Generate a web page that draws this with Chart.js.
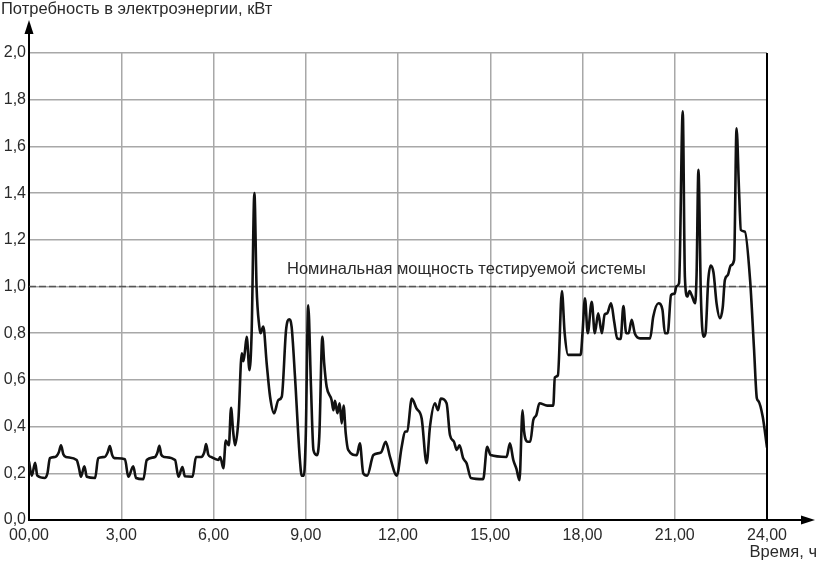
<!DOCTYPE html>
<html>
<head>
<meta charset="utf-8">
<script src="https://cdn.jsdelivr.net/npm/chart.js@4"></script>
<style>
  body { margin: 0; background: #fff; }
  canvas { display: block; }
</style>
</head>
<body>
<canvas id="chart" width="817" height="564"></canvas>
<script>
// time of day, hours
const hours = [
  0.00, 0.09, 0.20, 0.27, 0.52, 0.60, 0.68, 0.85, 0.97, 1.04, 1.12, 1.20, 1.55, 1.63, 1.69, 1.80, 1.88,
  2.15, 2.25, 2.46, 2.56, 2.63, 2.70, 2.78, 3.12, 3.23, 3.39, 3.48, 3.72, 3.83, 4.10, 4.18, 4.24, 4.30,
  4.40, 4.75, 4.86, 4.99, 5.07, 5.32, 5.43, 5.60, 5.70, 5.76, 5.83, 5.92, 6.16, 6.22, 6.32, 6.40, 6.50,
  6.57, 6.64, 6.70, 6.81, 6.92, 6.97, 7.02, 7.08, 7.17, 7.24, 7.33, 7.40, 7.49, 7.53, 7.62, 7.73, 7.84,
  7.97, 8.11, 8.22, 8.36, 8.46, 8.54, 8.65, 8.81, 8.87, 8.94, 9.00, 9.08, 9.17, 9.25, 9.36, 9.44, 9.54,
  9.60, 9.68, 9.84, 9.90, 9.95, 10.03, 10.10, 10.17, 10.23, 10.30, 10.38, 10.66, 10.76, 10.87, 11.00,
  11.20, 11.45, 11.60, 11.74, 11.96, 12.12, 12.23, 12.30, 12.45, 12.60, 12.77, 12.93, 13.04, 13.20,
  13.30, 13.39, 13.58, 13.69, 13.82, 13.91, 14.00, 14.12, 14.23, 14.37, 14.77, 14.90, 15.01, 15.53,
  15.64, 15.75, 15.85, 15.95, 16.05, 16.10, 16.22, 16.30, 16.40, 16.50, 16.60, 16.85, 17.05, 17.10,
  17.20, 17.33, 17.42, 17.53, 17.94, 18.00, 18.08, 18.17, 18.30, 18.40, 18.51, 18.63, 18.72, 18.80,
  18.93, 19.03, 19.13, 19.24, 19.33, 19.42, 19.50, 19.60, 19.70, 19.87, 20.20, 20.30, 20.47, 20.60,
  20.68, 20.77, 20.88, 21.00, 21.05, 21.14, 21.26, 21.33, 21.41, 21.48, 21.56, 21.66, 21.71, 21.77,
  21.85, 21.93, 22.00, 22.09, 22.17, 22.26, 22.36, 22.47, 22.56, 22.63, 22.73, 22.82, 22.93, 23.01,
  23.09, 23.15, 23.28, 23.45, 23.58, 23.67, 23.72, 23.86, 24.00
];
// power demand, kW
const demand = [
  0.25, 0.19, 0.245, 0.19, 0.18, 0.20, 0.265, 0.27, 0.29, 0.32, 0.28, 0.27, 0.257, 0.22, 0.185, 0.23, 0.185,
  0.18, 0.265, 0.27, 0.29, 0.317, 0.28, 0.265, 0.26, 0.185, 0.23, 0.18, 0.175, 0.257, 0.27, 0.29, 0.318, 0.28,
  0.27, 0.257, 0.185, 0.227, 0.187, 0.185, 0.27, 0.27, 0.29, 0.325, 0.28, 0.27, 0.257, 0.27, 0.222, 0.34, 0.32,
  0.48, 0.378, 0.32, 0.428, 0.714, 0.68, 0.72, 0.785, 0.642, 0.80, 1.40, 1.0, 0.828, 0.80, 0.828, 0.67, 0.528,
  0.457, 0.514, 0.528, 0.814, 0.86, 0.828, 0.614, 0.257, 0.19, 0.19, 0.357, 0.92, 0.571, 0.30, 0.278, 0.357, 0.785,
  0.67, 0.571, 0.514, 0.47, 0.51, 0.457, 0.50, 0.414, 0.49, 0.371, 0.30, 0.278, 0.328, 0.20, 0.19,
  0.278, 0.29, 0.335, 0.27, 0.19, 0.314, 0.378, 0.38, 0.52, 0.478, 0.435, 0.243, 0.40, 0.50,
  0.47, 0.52, 0.50, 0.364, 0.335, 0.30, 0.32, 0.264, 0.243, 0.18, 0.175, 0.314, 0.278, 0.27,
  0.328, 0.257, 0.22, 0.17, 0.47, 0.38, 0.335, 0.335, 0.428, 0.45, 0.50, 0.49, 0.49, 0.61,
  0.62, 0.98, 0.80, 0.707, 0.707, 0.80, 0.95, 0.80, 0.935, 0.80, 0.885, 0.80, 0.88, 0.885,
  0.928, 0.85, 0.778, 0.775, 0.916, 0.80, 0.80, 0.857, 0.80, 0.778, 0.778, 0.87, 0.928, 0.90,
  0.80, 0.80, 0.963, 0.97, 1.0, 1.014, 1.75, 1.04, 0.957, 0.98, 0.96, 0.928, 1.05, 1.50,
  0.96, 0.785, 0.80, 1.028, 1.09, 1.06, 0.928, 0.864, 0.91, 1.028, 1.05, 1.09, 1.113, 1.678,
  1.413, 1.242, 1.235, 1.028, 0.728, 0.521, 0.51, 0.443, 0.31
];
const nominalPower = 1.0;
const nominalLabel = 'Номинальная мощность тестируемой системы';
const yTitle = 'Потребность в электроэнергии, кВт';
const xTitle = 'Время, ч';
const xTicks = [0, 3, 6, 9, 12, 15, 18, 21, 24];
const yTicks = [0, 0.2, 0.4, 0.6, 0.8, 1.0, 1.2, 1.4, 1.6, 1.8, 2.0];

const FONT = '"Liberation Sans", Arial, sans-serif';
const TEXT = '#2a2a2a';

const decorPlugin = {
  id: 'decor',
  afterDraw(chart) {
    const ctx = chart.ctx;
    const a = chart.chartArea;
    const xs = chart.scales.x, ys = chart.scales.y;
    ctx.save();
    // right border at 24 h
    ctx.strokeStyle = '#000';
    ctx.lineWidth = 2;
    ctx.beginPath();
    ctx.moveTo(a.right, a.top);
    ctx.lineTo(a.right, a.bottom);
    ctx.stroke();
    // axis extensions
    ctx.beginPath();
    ctx.moveTo(a.left, a.top);
    ctx.lineTo(a.left, 30);
    ctx.moveTo(a.right, a.bottom);
    ctx.lineTo(804, a.bottom);
    ctx.stroke();
    ctx.fillStyle = '#000';
    ctx.beginPath();
    ctx.moveTo(a.left, 20);
    ctx.lineTo(a.left - 4.5, 34);
    ctx.lineTo(a.left + 4.5, 34);
    ctx.closePath();
    ctx.fill();
    ctx.beginPath();
    ctx.moveTo(815, a.bottom);
    ctx.lineTo(801, a.bottom - 4.5);
    ctx.lineTo(801, a.bottom + 4.5);
    ctx.closePath();
    ctx.fill();
    // texts
    ctx.fillStyle = TEXT;
    ctx.font = '16.5px ' + FONT;
    ctx.textBaseline = 'middle';
    ctx.textAlign = 'left';
    ctx.fillText(yTitle, 1, 9);
    ctx.textAlign = 'right';
    ctx.fillText(xTitle, 817, 552);
    ctx.textAlign = 'left';
    ctx.fillText(nominalLabel, xs.getPixelForValue(8.39), ys.getPixelForValue(nominalPower) - 17);
    ctx.restore();
  }
};

new Chart(document.getElementById('chart'), {
  type: 'line',
  data: {
    datasets: [
      {
        data: hours.map((h, i) => ({ x: h, y: demand[i] })),
        borderColor: '#111',
        borderWidth: 2.6,
        pointRadius: 0,
        cubicInterpolationMode: 'monotone',
        borderJoinStyle: 'round'
      },
      {
        data: [{ x: 0, y: nominalPower }, { x: 24, y: nominalPower }],
        borderColor: '#555',
        borderWidth: 1.6,
        borderDash: [7, 3],
        pointRadius: 0
      }
    ]
  },
  options: {
    responsive: false,
    animation: false,
    layout: { padding: { top: 53, right: 50, left: 0, bottom: 0 } },
    plugins: { legend: { display: false }, tooltip: { enabled: false } },
    scales: {
      x: {
        type: 'linear',
        min: 0,
        max: 24,
        afterFit(scale) { scale.height = 44; },
        afterBuildTicks(scale) { scale.ticks = xTicks.map(v => ({ value: v })); },
        grid: { color: '#a8a8a8', lineWidth: 1.5, drawTicks: false },
        border: { color: '#000', width: 2 },
        ticks: {
          autoSkip: false,
          maxRotation: 0,
          padding: 6,
          color: TEXT,
          font: { family: FONT, size: 16 },
          callback: v => v === 0 ? '00,00' : v + ',00'
        }
      },
      y: {
        min: 0,
        max: 2,
        afterFit(scale) { scale.width = 29; },
        afterBuildTicks(scale) { scale.ticks = yTicks.map(v => ({ value: v })); },
        grid: { color: '#a8a8a8', lineWidth: 1.5, drawTicks: false },
        border: { color: '#000', width: 2 },
        ticks: {
          padding: 3,
          color: TEXT,
          font: { family: FONT, size: 16 },
          callback: v => v.toFixed(1).replace('.', ',')
        }
      }
    }
  },
  plugins: [decorPlugin]
});
</script>
</body>
</html>
